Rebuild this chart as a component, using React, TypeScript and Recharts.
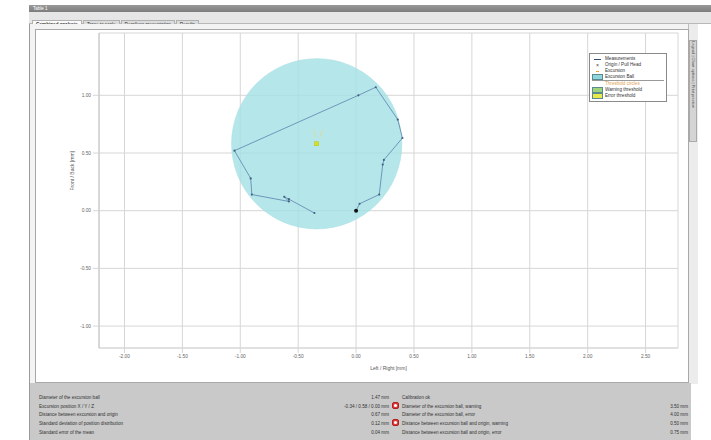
import React from "react";
import {
  ScatterChart,
  Scatter,
  XAxis,
  YAxis,
  CartesianGrid,
  ReferenceDot,
  Legend,
} from "recharts";

// axis ticks (mm)
const xTicks = [-2.0, -1.5, -1.0, -0.5, 0.0, 0.5, 1.0, 1.5, 2.0, 2.5];
const yTicks = [-1.0, -0.5, 0.0, 0.5, 1.0];

// measured path of the probe tip (mm)
const pathX = [0.0, 0.03, 0.2, 0.23, 0.24, 0.4, 0.36, 0.17, 0.02, -1.05, -0.91, -0.9, -0.58, -0.62, -0.58, -0.36];
const pathY = [0.0, 0.06, 0.14, 0.4, 0.44, 0.63, 0.79, 1.07, 1.0, 0.52, 0.28, 0.14, 0.08, 0.12, 0.1, -0.02];

// origin and excursion ball
const originX = [0.0];
const originY = [0.0];
const ballCenterX = [-0.34];
const ballCenterY = [0.58];
const ballRadius = 0.735;

const legendItems = [
  { label: "Measurements", kind: "line", color: "#2d4f73" },
  { label: "Origin / Pull Head", kind: "cross", color: "#333" },
  { label: "Excursion", kind: "dash", color: "#f0a030" },
  { label: "Excursion Ball", kind: "box", color: "#8fd6dc" },
  { label: "Threshold circles", kind: "header", color: "#e0a050" },
  { label: "Warning threshold", kind: "box", color: "#9ed47a" },
  { label: "Error threshold", kind: "box", color: "#e8ea4a" },
];

const resultLabels = [
  "Diameter of the excursion ball",
  "Excursion position X / Y / Z",
  "Distance between excursion and origin",
  "Standard deviation of position distribution",
  "Standard error of the mean",
];
const resultValues = ["1.47 mm", "-0.34 / 0.58 / 0.00 mm", "0.67 mm", "0.12 mm", "0.04 mm"];
const statusFlags = [true, false, true, false, false];
const limitLabels = [
  "Calibration ok",
  "Diameter of the excursion ball, warning",
  "Diameter of the excursion ball, error",
  "Distance between excursion ball and origin, warning",
  "Distance between excursion ball and origin, error",
];
const limitValues = ["", "3.50 mm", "4.00 mm", "0.50 mm", "0.75 mm"];

const tabs = ["Combined analysis", "Trace to scale", "Rear/lens presentation", "Results"];

const X_MIN = -2.22;
const X_MAX = 2.78;
const Y_MIN = -1.19;
const Y_MAX = 1.54;

const CHART_W = 650;
const CHART_H = 350;
const MARGIN = { top: 2, right: 8, bottom: 6, left: 33 };
const Y_AXIS_W = 30;
const X_AXIS_H = 27;
const PLOT_W = CHART_W - MARGIN.left - MARGIN.right - Y_AXIS_W;
const PX_PER_MM = PLOT_W / (X_MAX - X_MIN);

const font = "'Liberation Sans', Arial, sans-serif";
const gridColor = "#d6d6d6";

const fmt = (v: number) => v.toFixed(2);

const pathData = pathX.map((x, i) => ({ x, y: pathY[i] }));
const originData = originX.map((x, i) => ({ x, y: originY[i] }));
const centerData = ballCenterX.map((x, i) => ({ x, y: ballCenterY[i] }));

function LegendBox() {
  return (
    <div
      style={{
        width: 72,
        border: "1px solid #8a8a8a",
        background: "#fff",
        padding: "2px 2px",
        fontFamily: font,
        fontSize: 4.6,
        color: "#333",
        lineHeight: "6px",
      }}
    >
      {legendItems.map((it, i) => (
        <div key={it.label} style={{ display: "flex", alignItems: "center", height: 6, borderTop: i === 4 ? "1px solid #999" : "none" }}>
          <span style={{ width: 11, display: "inline-flex", justifyContent: "center" }}>
            {it.kind === "line" && <span style={{ width: 7, height: 1, background: it.color }} />}
            {it.kind === "cross" && <span style={{ fontSize: 5, color: it.color }}>×</span>}
            {it.kind === "dash" && <span style={{ width: 3, height: 1, background: it.color }} />}
            {it.kind === "box" && (
              <span style={{ width: 9, height: 4, background: it.color, border: "1px solid #5a8a90" }} />
            )}
          </span>
          <span style={{ marginLeft: 2, color: it.kind === "header" ? it.color : "#333" }}>{it.label}</span>
        </div>
      ))}
    </div>
  );
}

function StatusIcon() {
  return (
    <svg width={7} height={7}>
      <rect x={0.5} y={0.5} width={6} height={6} rx={1.5} fill="#e03a3a" stroke="#b02020" />
      <circle cx={3.5} cy={3.5} r={1.6} fill="#fff" />
    </svg>
  );
}

export default function App() {
  return (
    <div style={{ position: "fixed", left: 0, top: 0, width: 711, height: 440, background: "#fff", fontFamily: font, overflow: "hidden" }}>
      {/* window title */}
      <div style={{ position: "absolute", left: 29, top: 5, width: 682, height: 7, background: "linear-gradient(#9a9a9a, #7c7c7c)", color: "#fff", fontSize: 4.5, lineHeight: "7px", paddingLeft: 4 }}>
        Table 1
      </div>
      {/* tab bar */}
      <div style={{ position: "absolute", left: 29, top: 12, width: 682, height: 11, background: "#e6e6e6", borderBottom: "1px solid #b8b8b8" }}>
        {tabs.map((t, i) => (
          <span
            key={t}
            style={{
              display: "inline-block",
              marginLeft: i === 0 ? 3 : 1,
              marginTop: 2,
              padding: "0 3px",
              height: 8,
              lineHeight: "8px",
              fontSize: 4.6,
              fontWeight: i === 0 ? 700 : 400,
              background: i === 0 ? "#fafafa" : "#dcdcdc",
              border: "1px solid #b0b0b0",
              borderBottom: "none",
              color: "#333",
            }}
          >
            {t}
          </span>
        ))}
      </div>
      {/* panel */}
      <div style={{ position: "absolute", left: 29, top: 24, width: 660, height: 360, background: "#f3f3f3", borderLeft: "1px solid #9a9a9a" }} />
      {/* right side strip */}
      <div style={{ position: "absolute", left: 688, top: 24, width: 9, height: 360, background: "#ececec", borderLeft: "1px solid #bdbdbd" }} />
      <div style={{ position: "absolute", left: 689, top: 40, width: 6, height: 100, background: "#d4d4d4", border: "1px solid #aaa" }}>
        <div style={{ position: "absolute", left: 0, top: 0, width: 100, transform: "rotate(90deg) translate(0, -6px)", transformOrigin: "0 0", fontSize: 4, lineHeight: "6px", color: "#555", whiteSpace: "nowrap" }}>
          Legend | Chart options | Print preview
        </div>
      </div>

      {/* chart frame */}
      <div style={{ position: "absolute", left: 35, top: 29, width: 652, height: 352, background: "#fff", border: "1px solid #a8a8a8" }}>
        <div style={{ position: "absolute", left: 0, top: 1 }}>
          <ScatterChart width={CHART_W} height={CHART_H} margin={MARGIN}>
            <CartesianGrid stroke={gridColor} fill="#fff" />
            <XAxis
              type="number"
              dataKey="x"
              domain={[X_MIN, X_MAX]}
              ticks={xTicks}
              allowDataOverflow
              height={X_AXIS_H}
              tickFormatter={fmt}
              tick={{ fill: "#666", fontSize: 4.8, fontFamily: font }}
              tickSize={5}
              tickLine={{ stroke: gridColor }}
              axisLine={{ stroke: gridColor }}
              label={{ value: "Left / Right [mm]", position: "insideBottom", offset: 5, fill: "#555", fontSize: 5, fontFamily: font }}
            />
            <YAxis
              type="number"
              dataKey="y"
              domain={[Y_MIN, Y_MAX]}
              ticks={yTicks}
              allowDataOverflow
              width={Y_AXIS_W}
              tickFormatter={fmt}
              tick={{ fill: "#666", fontSize: 4.8, fontFamily: font }}
              tickSize={6}
              tickLine={{ stroke: gridColor }}
              axisLine={{ stroke: "#c4c4c4" }}
              label={{ value: "Front / Back [mm]", angle: -90, position: "insideLeft", offset: 3, fill: "#555", fontSize: 5, fontFamily: font }}
            />
            <ReferenceDot
              x={ballCenterX[0]}
              y={ballCenterY[0]}
              r={ballRadius * PX_PER_MM}
              fill="#a2e0e5"
              fillOpacity={0.8}
              stroke="#a9dfe4"
              strokeOpacity={0.6}
              strokeWidth={1}
              ifOverflow="visible"
            />
            <Legend
              layout="vertical"
              align="center"
              verticalAlign="middle"
              content={() => <LegendBox />}
              wrapperStyle={{ position: "absolute", left: 553, top: 22, width: 78 }}
            />
            <Scatter
              name="Measurements"
              data={pathData}
              isAnimationActive={false}
              line={{ stroke: "#6f97ba", strokeWidth: 1 }}
              lineType="joint"
              fill="#44627e"
              shape={(p: any) => <circle cx={p.cx} cy={p.cy} r={1.1} fill="#44627e" />}
            />
            <Scatter
              name="Origin"
              data={originData}
              isAnimationActive={false}
              shape={(p: any) => <circle cx={p.cx} cy={p.cy} r={2} fill="#111" />}
            />
            <Scatter
              name="Excursion"
              data={centerData}
              isAnimationActive={false}
              shape={(p: any) => (
                <g>
                  <line x1={p.cx - 3} y1={p.cy - 14} x2={p.cx - 1} y2={p.cy - 6} stroke="#f2d070" strokeWidth={0.6} />
                  <line x1={p.cx + 6} y1={p.cy - 14} x2={p.cx + 3} y2={p.cy - 6} stroke="#f2d070" strokeWidth={0.6} />
                  <rect x={p.cx - 2} y={p.cy - 2} width={4} height={4} fill="#d7e21e" stroke="#b6c418" strokeWidth={0.5} />
                </g>
              )}
            />
          </ScatterChart>
        </div>
      </div>

      {/* results panel */}
      <div style={{ position: "absolute", left: 29, top: 383, width: 661, height: 57, background: "#c9c9c9", borderLeft: "1px solid #9a9a9a" }}>
        {resultLabels.map((lbl, i) => {
          const top = 15 + i * 8.7;
          return (
            <React.Fragment key={lbl}>
              <div style={{ position: "absolute", left: 9, top: top - 4, fontSize: 4.6, color: "#333", whiteSpace: "nowrap", lineHeight: "7px" }}>{lbl}</div>
              <div style={{ position: "absolute", right: 661 - 359, top: top - 4, fontSize: 4.6, color: "#333", whiteSpace: "nowrap", lineHeight: "7px", textAlign: "right" }}>
                {resultValues[i]}
              </div>
              {statusFlags[i] && (
                <div style={{ position: "absolute", left: 362, top: top - 3.5 }}>
                  <StatusIcon />
                </div>
              )}
              <div style={{ position: "absolute", left: 372, top: top - 4, fontSize: 4.6, color: "#333", whiteSpace: "nowrap", lineHeight: "7px" }}>{limitLabels[i]}</div>
              <div style={{ position: "absolute", right: 661 - 658, top: top - 4, fontSize: 4.6, color: "#333", whiteSpace: "nowrap", lineHeight: "7px" }}>{limitValues[i]}</div>
            </React.Fragment>
          );
        })}
      </div>
    </div>
  );
}
